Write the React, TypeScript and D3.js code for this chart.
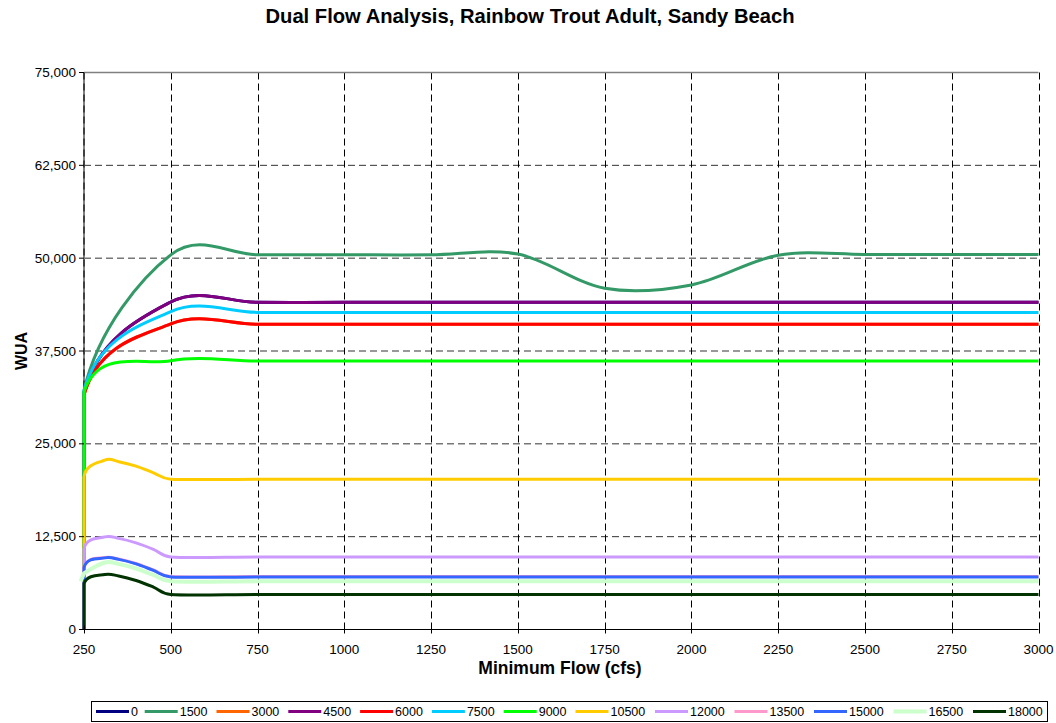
import React from 'react';
import * as d3 from 'd3';

// ---- Data ----
const flows = [250, 310, 350, 400, 450, 500, 750, 1000, 1250, 1500, 1750, 2000, 2250, 2500, 2750, 3000];
const seriesNames = ['0', '1500', '3000', '4500', '6000', '7500', '9000', '10500', '12000', '13500', '15000', '16500', '18000'];
const seriesColors = ['#000080', '#339966', '#FF6600', '#800080', '#FF0000', '#00CCFF', '#00FF00', '#FFCC00', '#CC99FF', '#FF99CC', '#3366FF', '#CCFFCC', '#003300'];
// first point of each curve (flow, WUA) before the values below
const startFlow = [250, 250, 250, 250, 250, 250, 250, 250, 250, 250, 250, 240, 250];
const startWUA = [0, 0, 0, 0, 0, 0, 0, 0, 0, 0, 0, 6500, 0];

type V = number | null;
const wua0: V[] = [31900, null, null, null, null, 44100, 44050, 44050, 44050, 44050, 44050, 44050, 44050, 44050, 44050, 44050];
const wua1500: V[] = [32200, null, null, null, null, 50450, 50450, 50450, 50450, 50550, 45950, 46400, 50400, 50500, 50500, 50500];
const wua3000: V[] = [31600, null, null, null, null, 41150, 41100, 41100, 41100, 41100, 41100, 41100, 41100, 41100, 41100, 41100];
const wua4500: V[] = [31900, null, null, null, null, 44100, 44050, 44050, 44050, 44050, 44050, 44050, 44050, 44050, 44050, 44050];
const wua6000: V[] = [31600, null, null, null, null, 41150, 41100, 41100, 41100, 41100, 41100, 41100, 41100, 41100, 41100, 41100];
const wua7500: V[] = [32200, null, null, null, null, 42800, 42700, 42700, 42700, 42700, 42700, 42700, 42700, 42700, 42700, 42700];
const wua9000: V[] = [32000, null, null, null, null, 36200, 36150, 36150, 36150, 36150, 36150, 36150, 36150, 36150, 36150, 36150];
const wua10500: V[] = [20550, 22800, 22600, 22000, 21100, 20240, 20240, 20240, 20240, 20240, 20240, 20240, 20240, 20240, 20240, 20240];
const wua12000: V[] = [10900, 12470, 12270, 11660, 10790, 9770, 9770, 9770, 9770, 9770, 9770, 9770, 9770, 9770, 9770, 9770];
const wua13500: V[] = [8400, 9690, 9490, 8880, 8010, 7130, 7130, 7130, 7130, 7130, 7130, 7130, 7130, 7130, 7130, 7130];
const wua15000: V[] = [8350, 9640, 9440, 8830, 7960, 7080, 7080, 7080, 7080, 7080, 7080, 7080, 7080, 7080, 7080, 7080];
const wua16500: V[] = [7550, 9020, 8820, 8210, 7340, 6500, 6500, 6500, 6500, 6500, 6500, 6500, 6500, 6500, 6500, 6500];
const wua18000: V[] = [6200, 7410, 7200, 6600, 5720, 4710, 4710, 4710, 4710, 4710, 4710, 4710, 4710, 4710, 4710, 4710];

const seriesValues = [wua0, wua1500, wua3000, wua4500, wua6000, wua7500, wua9000, wua10500, wua12000, wua13500, wua15000, wua16500, wua18000];

const yTicks = [0, 12500, 25000, 37500, 50000, 62500, 75000];
const xTicks = [250, 500, 750, 1000, 1250, 1500, 1750, 2000, 2250, 2500, 2750, 3000];

const FONT = '"Liberation Sans", Arial, sans-serif';

// Spreadsheet-style smoothing: straight rise from the first point, then
// Catmull-Rom Bezier segments with control arms limited to half the segment.
function smoothPath(pts: [number, number][]): string {
  const n = pts.length;
  let d = `M${pts[0][0]},${pts[0][1]}L${pts[1][0]},${pts[1][1]}`;
  for (let i = 1; i < n - 1; i++) {
    const p0 = pts[i - 1];
    const p1 = pts[i];
    const p2 = pts[i + 1];
    const p3 = pts[Math.min(i + 2, n - 1)];
    const d12 = Math.hypot(p2[0] - p1[0], p2[1] - p1[1]);
    let a1x = (p2[0] - p0[0]) / 6, a1y = (p2[1] - p0[1]) / 6;
    let a2x = (p3[0] - p1[0]) / 6, a2y = (p3[1] - p1[1]) / 6;
    const l1 = Math.hypot(a1x, a1y), l2 = Math.hypot(a2x, a2y);
    if (l1 > d12 / 2) { a1x *= d12 / 2 / l1; a1y *= d12 / 2 / l1; }
    if (l2 > d12 / 2) { a2x *= d12 / 2 / l2; a2y *= d12 / 2 / l2; }
    d += `C${p1[0] + a1x},${p1[1] + a1y},${p2[0] - a2x},${p2[1] - a2y},${p2[0]},${p2[1]}`;
  }
  return d;
}

export default function App() {
  const W = 1056, H = 723;
  const left = 84, right = 1038.5, top = 72.5, bottom = 629.5;
  const x = d3.scaleLinear().domain([250, 3000]).range([left, right]);
  const y = d3.scaleLinear().domain([0, 75000]).range([bottom, top]);
  const fmt = d3.format(',');

  // legend layout
  const legendY = 711.5;
  const sampleLen = 33;
  let lx = 96;
  const legendItems = seriesNames.map((name, i) => {
    const item = { x: lx, name, color: seriesColors[i] };
    lx += 41 + 7.7 * name.length;
    return item;
  });

  return (
    <svg width={W} height={H} style={{ position: 'absolute', left: 0, top: 0, background: '#fff' }} fontFamily={FONT}>
      <rect x={0} y={0} width={W} height={H} fill="#fff" />
      <text x={530} y={23} textAnchor="middle" fontSize={20.2} fontWeight="bold">
        Dual Flow Analysis, Rainbow Trout Adult, Sandy Beach
      </text>

      {/* horizontal gridlines */}
      {yTicks.filter(t => t > 0 && t < 75000).map(t => (
        <line key={'hg' + t} x1={left} x2={right} y1={y(t)} y2={y(t)} stroke="#333" strokeWidth={1} strokeDasharray="7,4" />
      ))}
      {/* vertical gridlines */}
      {xTicks.filter(t => t > 250).map(t => (
        <line key={'vg' + t} x1={Math.round(x(t)) + 0.5} x2={Math.round(x(t)) + 0.5} y1={top} y2={bottom} stroke="#000" strokeWidth={1} strokeDasharray="7,4" />
      ))}
      {/* top border */}
      <line x1={left} x2={right} y1={top} y2={top} stroke="#808080" strokeWidth={1.5} />
      {/* left axis */}
      <line x1={left} x2={left} y1={top} y2={bottom} stroke="#808080" strokeWidth={2} />
      <line x1={left} x2={left} y1={top} y2={bottom} stroke="#000" strokeWidth={1} strokeDasharray="7,4" />

      {/* series */}
      {seriesValues.map((vals, i) => {
        const pts: [number, number][] = [[x(startFlow[i]), y(startWUA[i])]];
        flows.forEach((f, j) => {
          const v = vals[j];
          if (v !== null) pts.push([x(f), y(v)]);
        });
        return (
          <path key={'s' + i} d={smoothPath(pts)} fill="none" stroke={seriesColors[i]}
            strokeWidth={i === 11 ? 4 : 3} strokeLinejoin="round" />
        );
      })}

      {/* bottom axis */}
      <line x1={left - 1} x2={right} y1={bottom} y2={bottom} stroke="#000" strokeWidth={1} />
      {xTicks.map(t => (
        <line key={'xt' + t} x1={Math.round(x(t)) + 0.5} x2={Math.round(x(t)) + 0.5} y1={bottom - 4} y2={bottom + 4} stroke="#000" strokeWidth={1} />
      ))}
      {xTicks.map(t => (
        <text key={'xl' + t} x={x(t)} y={654} textAnchor="middle" fontSize={13.5}>{t}</text>
      ))}
      {yTicks.map(t => (
        <line key={'yt' + t} x1={left - 5} x2={left} y1={y(t)} y2={y(t)} stroke="#000" strokeWidth={1} />
      ))}
      {yTicks.map(t => (
        <text key={'yl' + t} x={76} y={y(t) + 4.5} textAnchor="end" fontSize={13.5}>{fmt(t)}</text>
      ))}

      <text x={560} y={674} textAnchor="middle" fontSize={17.5} fontWeight="bold">Minimum Flow (cfs)</text>
      <text transform={`translate(27,${(top + bottom) / 2}) rotate(-90)`} textAnchor="middle" fontSize={16} fontWeight="bold">WUA</text>

      {/* legend */}
      <rect x={91.5} y={701.5} width={956} height={20} fill="#fff" stroke="#000" strokeWidth={1} />
      {legendItems.map((it, i) => (
        <g key={'lg' + i}>
          <line x1={it.x} x2={it.x + sampleLen} y1={legendY} y2={legendY} stroke={it.color} strokeWidth={i === 11 ? 4 : 3} />
          <text x={it.x + sampleLen + 2} y={legendY + 4.5} fontSize={12.5}>{it.name}</text>
        </g>
      ))}
    </svg>
  );
}
